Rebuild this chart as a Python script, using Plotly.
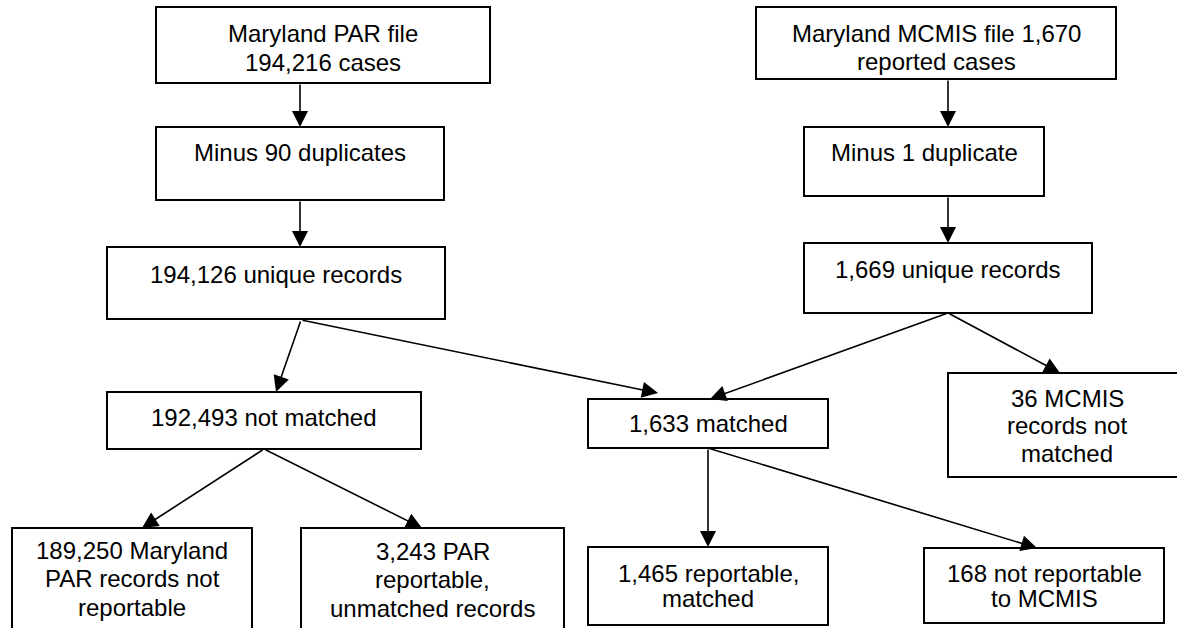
import plotly.graph_objects as go

# ---- text content of the flowchart nodes ----
par_file = ["Maryland PAR file", "194,216 cases"]
par_dup = ["Minus 90 duplicates"]
par_unique = ["194,126 unique records"]
not_matched = ["192,493 not matched"]
par_not_rep = ["189,250 Maryland", "PAR records not", "reportable"]
par_rep_unm = ["3,243 PAR", "reportable,", "unmatched records"]
mcmis_file = ["Maryland MCMIS file 1,670", "reported cases"]
mcmis_dup = ["Minus 1 duplicate"]
mcmis_unique = ["1,669 unique records"]
matched = ["1,633 matched"]
mcmis_unm = ["36 MCMIS", "records not", "matched"]
rep_matched = ["1,465 reportable,", "matched"]
not_rep = ["168 not reportable", "to MCMIS"]

node_text = {
    "par_file": par_file, "par_dup": par_dup, "par_unique": par_unique,
    "not_matched": not_matched, "par_not_rep": par_not_rep, "par_rep_unm": par_rep_unm,
    "mcmis_file": mcmis_file, "mcmis_dup": mcmis_dup, "mcmis_unique": mcmis_unique,
    "matched": matched, "mcmis_unm": mcmis_unm, "rep_matched": rep_matched, "not_rep": not_rep,
}

# ---- layout (diagram coordinates, 1 unit = 1 px) ----
box_geom = {  # x0, x1, y0, y1
    "par_file": (156, 490, 7, 83),
    "par_dup": (156, 444, 127, 200),
    "par_unique": (107, 445, 247, 319),
    "not_matched": (107, 421, 392, 449),
    "par_not_rep": (12, 252, 528, 660),
    "par_rep_unm": (301, 564, 528, 660),
    "mcmis_file": (756, 1116, 7, 79),
    "mcmis_dup": (804, 1044, 127, 196),
    "mcmis_unique": (804, 1092, 243, 313),
    "matched": (588, 828, 399, 448),
    "mcmis_unm": (948, 1190, 373, 477),
    "rep_matched": (588, 828, 547, 625),
    "not_rep": (924, 1164, 548, 623),
}
text_pos = {  # first line y, line spacing
    "par_file": (33, 29), "par_dup": (152, 0), "par_unique": (274, 0),
    "not_matched": (417, 0), "par_not_rep": (550, 28.5), "par_rep_unm": (551, 28.5),
    "mcmis_file": (33, 28), "mcmis_dup": (152, 0), "mcmis_unique": (269, 0),
    "matched": (423, 0), "mcmis_unm": (398, 27.5), "rep_matched": (573, 25.5),
    "not_rep": (573, 25.5),
}
text_cx = {"mcmis_unm": 1067}

edges = [  # tail (x, y) -> tip (x, y)
    ((300, 83), (300, 127)),
    ((300, 200), (300, 247)),
    ((948, 79), (948, 127)),
    ((948, 196), (948, 243)),
    ((301, 320), (276, 392)),
    ((301, 320), (658, 393)),
    ((948, 313), (710, 399)),
    ((948, 313), (1060, 373)),
    ((264, 449), (142, 528)),
    ((264, 449), (422, 528)),
    ((708, 448), (708, 547)),
    ((708, 448), (1037, 548)),
]

W, H = 1177, 628
FONT = "Arial, Liberation Sans, Helvetica, sans-serif"

fig = go.Figure()
fig.add_trace(go.Scatter(x=[0, W], y=[0, H], mode="markers",
                         marker=dict(opacity=0), hoverinfo="skip", showlegend=False))

for key, (x0, x1, y0, y1) in box_geom.items():
    fig.add_shape(type="rect", xref="x", yref="y", x0=x0, x1=x1, y0=y0, y1=y1,
                  line=dict(color="black", width=2), fillcolor="white", layer="below")
    cx = text_cx.get(key, (x0 + x1) / 2)
    y_first, dy = text_pos[key]
    for i, line in enumerate(node_text[key]):
        fig.add_annotation(x=cx, y=y_first + i * dy, xref="x", yref="y", text=line,
                           showarrow=False, xanchor="center", yanchor="middle",
                           font=dict(family=FONT, size=24, color="black"))

for (tx, ty), (hx, hy) in edges:
    fig.add_annotation(x=hx, y=hy, ax=tx, ay=ty, xref="x", yref="y", axref="x", ayref="y",
                       text="", showarrow=True, arrowhead=2, arrowsize=2, arrowwidth=1.6,
                       arrowcolor="black", standoff=0, startstandoff=0)

fig.update_xaxes(range=[0, W], visible=False, showgrid=False, zeroline=False)
fig.update_yaxes(range=[H, 0], visible=False, showgrid=False, zeroline=False)
fig.update_layout(width=W, height=H, margin=dict(l=0, r=0, t=0, b=0),
                  paper_bgcolor="white", plot_bgcolor="white", showlegend=False)

fig.write_html("out.html", config={"displayModeBar": False},
               post_script="document.body.style.margin='0';document.body.style.overflow='hidden';")
